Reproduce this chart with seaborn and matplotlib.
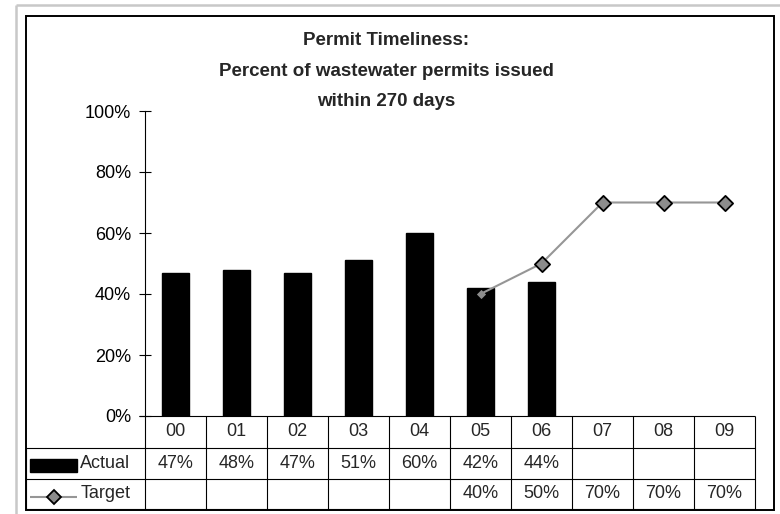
import numpy as np
import pandas as pd
import matplotlib
matplotlib.use("Agg")
import matplotlib.pyplot as plt
from matplotlib.lines import Line2D
from matplotlib.patches import Rectangle
import seaborn as sns

# data
years = ["00", "01", "02", "03", "04", "05", "06", "07", "08", "09"]
actual = [0.47, 0.48, 0.47, 0.51, 0.60, 0.42, 0.44, np.nan, np.nan, np.nan]
target = [np.nan, np.nan, np.nan, np.nan, np.nan, 0.40, 0.50, 0.70, 0.70, 0.70]
y_ticks = [0.0, 0.2, 0.4, 0.6, 0.8, 1.0]
title = "Permit Timeliness:\nPercent of wastewater permits issued\nwithin 270 days"

sns.set_style("white")
plt.rcParams['font.family'] = ['Liberation Sans', 'DejaVu Sans']

W, H = 780, 514
fig = plt.figure(figsize=(W / 100, H / 100), dpi=100)


def fx(x):
    return x / W


def fy(y):
    return 1 - y / H


def hline(y, x0, x1, color="black", lw=0.8):
    fig.add_artist(Line2D([fx(x0), fx(x1)], [fy(y), fy(y)], color=color, lw=lw,
                          transform=fig.transFigure, solid_capstyle="butt"))


def vline(x, y0, y1, color="black", lw=0.8):
    fig.add_artist(Line2D([fx(x), fx(x)], [fy(y0), fy(y1)], color=color, lw=lw,
                          transform=fig.transFigure, solid_capstyle="butt"))


# plot area
left, right, top, bottom = 145, 755, 111, 416
ax = fig.add_axes([fx(left), fy(bottom), (right - left) / W, (bottom - top) / H])

df = pd.DataFrame({"year": years, "actual": actual, "target": target})
sns.barplot(data=df, x="year", y="actual", order=years, color="black",
            saturation=1, width=0.44, edgecolor="black", ax=ax)

pos = np.arange(len(years))
tgt = np.array(target)
ax.plot(pos, tgt, color="#969696", lw=1.5, zorder=3)
first = np.where(~np.isnan(tgt))[0][0]
ax.scatter(pos[first], tgt[first], marker="D", s=22, color="#8c8c8c",
           linewidths=0, zorder=4)
rest = pos[first + 1:]
ax.scatter(rest, tgt[first + 1:], marker="D", s=60, color="#8c8c8c",
           edgecolors="black", linewidths=1.3, zorder=4)

ax.set_xlim(-0.5, len(years) - 0.5)
ax.set_ylim(0, 1)
ax.set_yticks(y_ticks)
ax.set_yticklabels([f"{int(round(v * 100))}%" for v in y_ticks])
ax.set_xticks([])
ax.set_xlabel("")
ax.set_ylabel("")
for s in ["top", "right", "bottom"]:
    ax.spines[s].set_visible(False)
ax.spines["left"].set_color("black")
ax.spines["left"].set_linewidth(0.8)
ax.tick_params(axis="y", direction="inout", length=8, width=0.8, pad=6,
               labelsize=13, left=True, colors="black")
ax.patch.set_alpha(0)

# title
fig.text(fx(386), fy(71), title, ha="center", va="center", fontsize=13.5,
         fontweight="bold", linespacing=2.05)

# data table
col_edges = np.linspace(left, right, len(years) + 1)
rows = [416, 448, 479, 509]
hline(rows[0], 139, right)
for r in rows[1:]:
    hline(r, 26, right)
for c in col_edges:
    vline(c, rows[0], rows[-1])
vline(26, rows[1], rows[-1])

centers = (col_edges[:-1] + col_edges[1:]) / 2
row_mid = [(rows[i] + rows[i + 1]) / 2 for i in range(3)]
for i, yr in enumerate(years):
    fig.text(fx(centers[i]), fy(row_mid[0]), yr, ha="center", va="center", fontsize=13)
    if not np.isnan(actual[i]):
        fig.text(fx(centers[i]), fy(row_mid[1]), f"{int(round(actual[i] * 100))}%",
                 ha="center", va="center", fontsize=13)
    if not np.isnan(target[i]):
        fig.text(fx(centers[i]), fy(row_mid[2]), f"{int(round(target[i] * 100))}%",
                 ha="center", va="center", fontsize=13)

# legend keys in the table
fig.add_artist(Rectangle((fx(30), fy(472)), (77 - 30) / W, 13 / H,
                         color="black", transform=fig.transFigure))
fig.text(fx(80), fy(row_mid[1]), "Actual", ha="left", va="center", fontsize=13)
hline(497, 30, 77, color="#969696", lw=1.5)
fig.add_artist(Line2D([fx(54)], [fy(497)], marker="D", markersize=7,
                      markerfacecolor="#8c8c8c", markeredgecolor="black",
                      markeredgewidth=1.3, transform=fig.transFigure))
fig.text(fx(81), fy(row_mid[2]), "Target", ha="left", va="center", fontsize=13)

# frames
vline(16, 5, 514, color="#c8c8c8", lw=1.8)
hline(5, 16, 780, color="#c8c8c8", lw=1.8)
fig.add_artist(Rectangle((fx(25.5), fy(509.5)), (774 - 25.5) / W, (509.5 - 15.5) / H,
                         fill=False, edgecolor="black", lw=1.4,
                         transform=fig.transFigure))

fig.savefig("out.png", dpi=100)
